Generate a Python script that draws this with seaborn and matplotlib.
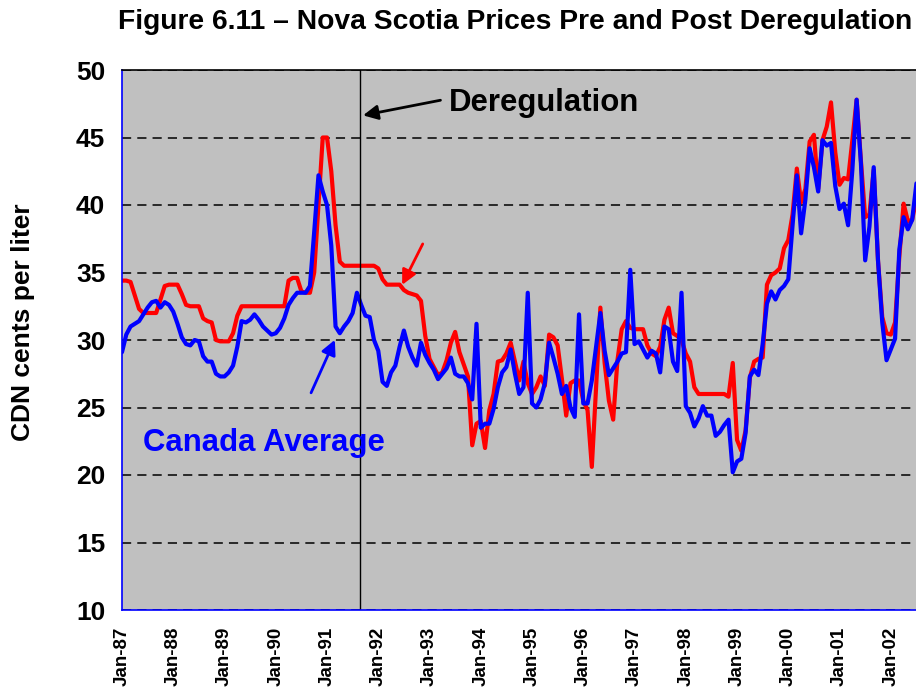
import matplotlib
matplotlib.use("Agg")
import matplotlib.pyplot as plt
from matplotlib import font_manager
import seaborn as sns
import pandas as pd
import numpy as np

# ---------------- data (monthly, Jan-1987 onward) ----------------
nova_scotia = [
    34.4, 34.4, 34.3, 33.3, 32.3, 32.0, 32.0, 32.0, 32.0, 33.0, 34.0, 34.1,   # 1987
    34.1, 34.1, 33.4, 32.6, 32.5, 32.5, 32.5, 31.6, 31.4, 31.3, 30.0, 29.9,   # 1988
    29.9, 29.9, 30.5, 31.8, 32.5, 32.5, 32.5, 32.5, 32.5, 32.5, 32.5, 32.5,   # 1989
    32.5, 32.5, 32.5, 34.4, 34.6, 34.6, 33.6, 33.5, 33.5, 35.0, 40.0, 45.0,   # 1990
    45.0, 42.5, 38.5, 35.8, 35.5, 35.5, 35.5, 35.5, 35.5, 35.5, 35.5, 35.5,   # 1991
    35.3, 34.5, 34.1, 34.1, 34.1, 34.1, 33.7, 33.5, 33.4, 33.3, 32.9, 30.3,   # 1992
    28.6, 28.0, 27.4, 27.6, 28.5, 29.8, 30.6, 29.1, 28.2, 27.3, 22.2, 23.8,   # 1993
    24.0, 22.0, 24.8, 26.0, 28.4, 28.5, 29.0, 29.8, 28.4, 27.0, 28.4, 26.8,   # 1994
    26.0, 26.5, 27.3, 26.6, 30.4, 30.2, 29.6, 27.1, 24.4, 26.8, 27.0, 27.0,   # 1995
    25.5, 24.8, 20.6, 26.5, 32.4, 28.3, 25.5, 24.1, 28.5, 30.8, 31.4, 30.9,   # 1996
    30.8, 30.8, 30.8, 29.6, 29.0, 28.8, 29.5, 31.5, 32.4, 30.5, 30.3, 30.0,   # 1997
    29.0, 28.4, 26.5, 26.0, 26.0, 26.0, 26.0, 26.0, 26.0, 26.0, 25.8, 28.3,   # 1998
    22.6, 21.8, 23.3, 27.2, 28.4, 28.6, 28.7, 34.1, 34.8, 35.0, 35.3, 36.8,   # 1999
    37.4, 39.3, 42.7, 40.2, 41.2, 44.7, 45.2, 41.2, 44.8, 45.8, 47.6, 43.9,   # 2000
    41.5, 42.0, 41.9, 44.8, 47.8, 43.3, 39.1, 39.3, 42.6, 35.9, 31.7, 30.5,   # 2001
    30.4, 31.3, 36.2, 40.1, 38.8, 38.9, 40.5,                                 # 2002
]
canada_average = [
    29.1, 30.4, 31.0, 31.2, 31.4, 31.9, 32.4, 32.8, 32.9, 32.4, 32.8, 32.6,   # 1987
    32.1, 31.2, 30.2, 29.7, 29.6, 30.0, 29.9, 28.8, 28.4, 28.4, 27.5, 27.3,   # 1988
    27.3, 27.6, 28.1, 29.5, 31.4, 31.3, 31.5, 31.9, 31.5, 31.0, 30.7, 30.4,   # 1989
    30.5, 30.9, 31.6, 32.6, 33.1, 33.5, 33.5, 33.5, 34.0, 38.0, 42.2, 41.0,   # 1990
    40.0, 37.0, 31.0, 30.5, 31.0, 31.4, 32.0, 33.5, 32.6, 31.8, 31.7, 30.0,   # 1991
    29.2, 26.9, 26.6, 27.6, 28.1, 29.5, 30.7, 29.5, 28.7, 28.1, 29.8, 28.9,   # 1992
    28.3, 27.8, 27.1, 27.5, 27.9, 28.7, 27.5, 27.3, 27.3, 26.8, 25.6, 31.2,   # 1993
    23.5, 23.8, 23.8, 24.9, 26.5, 27.6, 28.0, 29.3, 27.5, 26.0, 26.5, 33.5,   # 1994
    25.3, 25.0, 25.6, 26.8, 29.8, 28.7, 27.5, 26.0, 26.6, 25.0, 24.3, 31.9,   # 1995
    25.3, 25.3, 27.0, 29.5, 32.0, 29.2, 27.4, 27.9, 28.4, 29.0, 29.1, 35.2,   # 1996
    29.7, 29.9, 29.3, 28.7, 29.2, 29.0, 27.6, 31.0, 30.8, 28.4, 27.7, 33.5,   # 1997
    25.1, 24.6, 23.6, 24.2, 25.1, 24.4, 24.4, 22.9, 23.2, 23.7, 24.1, 20.2,   # 1998
    21.0, 21.2, 23.1, 27.3, 27.8, 27.4, 29.7, 32.7, 33.6, 33.0, 33.7, 34.0,   # 1999
    34.5, 38.5, 42.2, 37.9, 40.4, 44.2, 42.8, 41.0, 44.8, 44.4, 44.6, 41.4,   # 2000
    39.7, 40.1, 38.5, 42.6, 47.8, 43.1, 35.9, 38.4, 42.8, 35.9, 31.3, 28.5,   # 2001
    29.3, 30.1, 36.7, 39.1, 38.2, 38.9, 41.6,                                 # 2002
]
year_labels = ["Jan-87", "Jan-88", "Jan-89", "Jan-90", "Jan-91", "Jan-92", "Jan-93",
               "Jan-94", "Jan-95", "Jan-96", "Jan-97", "Jan-98", "Jan-99", "Jan-00",
               "Jan-01", "Jan-02"]
y_ticks = [10, 15, 20, 25, 30, 35, 40, 45, 50]
dereg_month = 55.7   # deregulation, Aug 1991 (months since Jan-87)
title = "Figure 6.11 \u2013 Nova Scotia Prices Pre and Post Deregulation"

months = np.arange(len(nova_scotia))
df = pd.DataFrame({"month": months, "ns": nova_scotia, "can": canada_average})

# ---------------- figure ----------------
sns.set_style("white")
plt.rcParams["font.family"] = ["Liberation Sans", "DejaVu Sans"]
for k in ["text.color", "axes.labelcolor", "xtick.color", "ytick.color"]:
    plt.rcParams[k] = "black"

W, H = 916, 692
fig = plt.figure(figsize=(W / 100, H / 100), dpi=100)
ax = fig.add_axes([122 / W, 82 / H, 1 - 122 / W, 540 / H])
ax.set_facecolor("#C0C0C0")

ax.set_ylim(10, 50)
ax.set_xlim(0, 185.9)
ax.set_yticks(y_ticks)
ax.yaxis.grid(True, linestyle=(0, (6, 4)), color="black", linewidth=1.1)
ax.set_axisbelow(True)

sns.lineplot(data=df, x="month", y="ns", color="#FF0000", linewidth=3.0, ax=ax)
sns.lineplot(data=df, x="month", y="can", color="#0000FF", linewidth=3.0, ax=ax)

ax.axvline(dereg_month, color="black", linewidth=1.0)

ax.set_xticks(np.arange(len(year_labels)) * 12)
ax.set_xticklabels(year_labels, rotation=90, fontsize=13.5, fontweight="bold")
ax.set_yticklabels([str(v) for v in y_ticks], fontsize=19, fontweight="bold")
ax.tick_params(axis="x", length=0, pad=12, labelcolor="black")
ax.tick_params(axis="y", direction="out", length=8, width=1.0, color="#0000FF",
               labelcolor="black", pad=4)
ax.set_xlabel("")
ax.set_ylabel("")

for s in ["left", "bottom"]:
    ax.spines[s].set_color("#0000FF")
    ax.spines[s].set_linewidth(1.2)
ax.spines["top"].set_color("black")
ax.spines["top"].set_linewidth(1.2)
ax.spines["right"].set_visible(False)

# annotations
ax.text(98.8, 47.56, "Deregulation", fontsize=22.4, fontweight="bold", color="black",
        ha="center", va="center")
ax.annotate("", xy=(55.8, 46.6), xytext=(75.2, 47.8),
            arrowprops=dict(arrowstyle="-|>", color="black", lw=2, mutation_scale=22))
ax.annotate("", xy=(65.3, 33.9), xytext=(70.7, 37.3),
            arrowprops=dict(arrowstyle="-|>", color="#FF0000", lw=2, mutation_scale=22))
ax.annotate("", xy=(50.1, 30.2), xytext=(44.0, 25.9),
            arrowprops=dict(arrowstyle="-|>", color="#0000FF", lw=2, mutation_scale=22))
ax.text(33.3, 22.37, "Canada Average", fontsize=22.4, fontweight="bold", color="#0000FF",
        ha="center", va="center")

# title: condensed bold face if available, fitted to the reference width
names = {f.name for f in font_manager.fontManager.ttflist}
title_family = ["Liberation Sans Narrow"] if "Liberation Sans Narrow" in names else ["Liberation Sans"]
t = fig.text(515 / W, 1 - 22 / H, title, fontsize=21, fontweight="bold",
             family=title_family + ["DejaVu Sans"], ha="center", va="center")
fig.canvas.draw()
wpx = t.get_window_extent().width
t.set_fontsize(min(21, 21 * 794 / wpx))

fig.text(23 / W, 1 - 322 / H, "CDN cents per liter", fontsize=19, fontweight="bold",
         rotation=90, ha="center", va="center")

fig.savefig("out.png", dpi=100)
